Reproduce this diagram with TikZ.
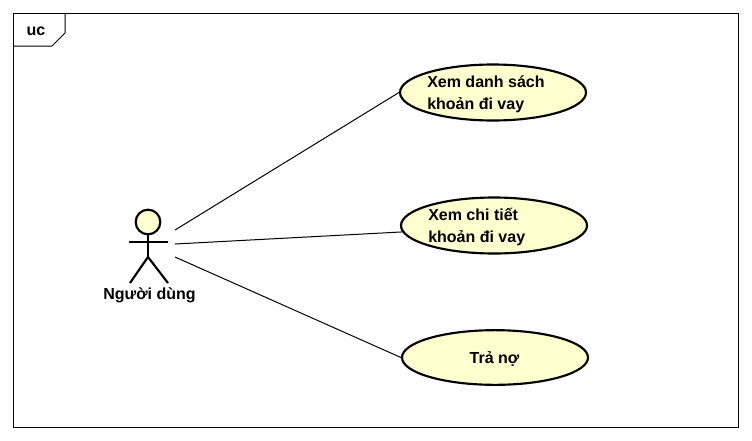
\documentclass[tikz,border=0pt]{standalone}
\usepackage{fontspec}
\setmainfont{Liberation Sans}
\usepackage{xcolor}
\usetikzlibrary{shapes.geometric}
\definecolor{ucfill}{HTML}{FEFECE}
\tikzset{
  usecase/.style={draw, ellipse, line width=1.6pt, fill=ucfill, inner sep=0pt, minimum width=139.5pt, minimum height=42pt},
  uctext/.style={anchor=west, align=left, inner sep=0pt, font=\fontsize{12}{16.5}\selectfont\bfseries},
  plaintext/.style={inner sep=0pt, font=\fontsize{12}{14}\selectfont\bfseries},
  limb/.style={line width=1.6pt},
  assoc/.style={line width=0.75pt}
}

\begin{document}
\begin{tikzpicture}[x=0.75pt, y=-0.75pt]      % 1 unit = 1 pixel
    \useasboundingbox (0, 0) rectangle (752, 440);

    % frame
    \node[draw, line width=0.75pt, minimum width=543.75pt, minimum height=310.5pt, inner sep=0pt] at (375.5, 220.5) (frame) {};
    \coordinate (tabA) at (65, 13);
    \coordinate (tabB) at (65, 33);
    \coordinate (tabC) at (52, 46);
    \coordinate (tabD) at (13, 46);
    \draw[line width=0.75pt] (tabA) -- (tabB) -- (tabC) -- (tabD);
    \node[plaintext] at (36, 31) (tab) {uc};

    % actor
    \node[draw, circle, line width=1.6pt, fill=ucfill, minimum size=18.5pt, inner sep=0pt] at (148, 222) (head) {};
    \coordinate (hip) at (148, 257);
    \coordinate (armL) at (129, 242);
    \coordinate (armR) at (168, 242);
    \coordinate (footL) at (130, 283);
    \coordinate (footR) at (168, 283);
    \draw[limb] (head) -- (hip);
    \draw[limb] (armL) -- (armR);
    \draw[limb] (footL) -- (hip) -- (footR);
    \node[plaintext] at (149.5, 295) (user) {Người dùng};

    % use cases
    \node[usecase] at (493, 92.5) (list) {};
    \node[usecase] at (494, 225.5) (detail) {};
    \node[usecase, minimum height=41pt] at (495, 357.5) (repay) {};
    \node[uctext] at (427, 94.5) (listT) {Xem danh sách\\khoản đi vay};
    \node[uctext] at (428, 227.5) (detailT) {Xem chi tiết\\khoản đi vay};
    \node[plaintext] at (494.5, 358.5) (repayT) {Trả nợ};

    % links
    \coordinate (fromA) at (175, 230);
    \coordinate (fromB) at (175, 244);
    \coordinate (fromC) at (175, 257);
    \draw[assoc] (fromA) -- (list.west);
    \draw[assoc] (fromB) -- (detail.184);
    \draw[assoc] (fromC) -- (repay.west);
\end{tikzpicture}
\end{document}
